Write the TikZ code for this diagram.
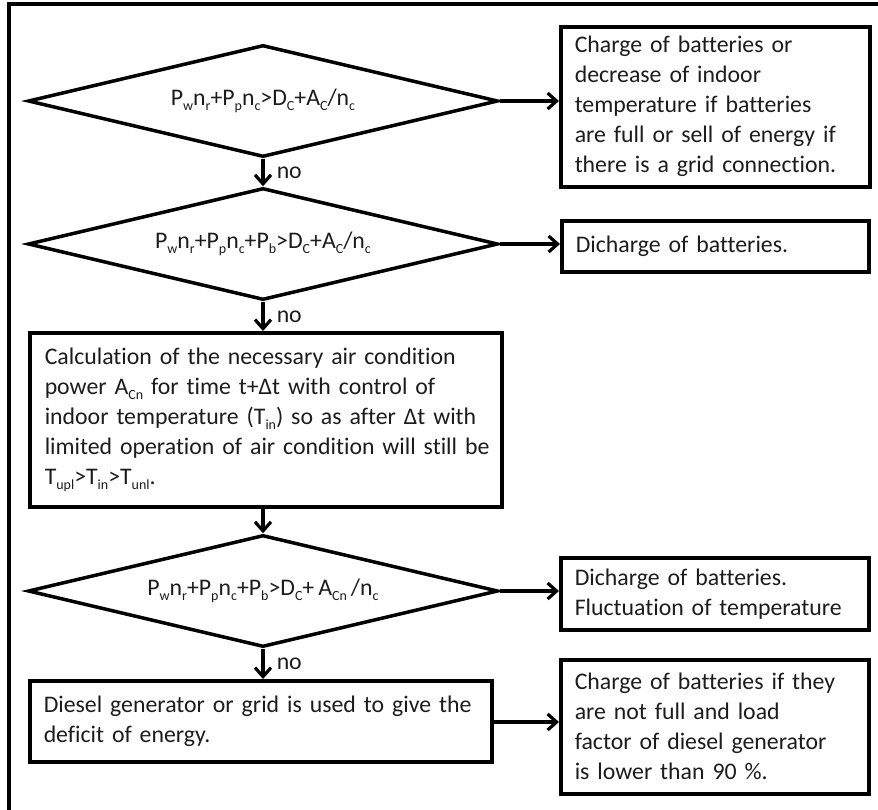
\documentclass[tikz,border=0pt]{standalone}
\usepackage{fontspec}
\setmainfont{Carlito}[Ligatures=NoCommon, WordSpace=0.75]
\usetikzlibrary{shapes.geometric,arrows.meta}
\definecolor{T}{RGB}{28,28,28}
% small lowered index, one unbroken line
\newcommand{\lo}[1]{\raisebox{-5pt}{\fontsize{14}{14}\selectfont #1}}
\newcommand{\boxline}[1]{\mbox{#1}}

\tikzset{
  every node/.style={font=\fontsize{23.8}{30}\selectfont, text=T},
  dec/.style={diamond, draw, line width=3.5pt, minimum width=470pt, minimum height=112pt, inner sep=0pt, aspect=4.2},
  act/.style={rectangle, draw, line width=3.5pt, align=left, inner xsep=14pt, inner ysep=0pt, anchor=north west},
  flow/.style={line width=3.5pt, -{Straight Barb[length=9pt,width=16pt,line width=3.2pt]}},
}

\begin{document}
\begin{tikzpicture}[x=1pt,y=-1pt]
   \useasboundingbox (0,0) rectangle (878,809);
   % outer frame (cut at right and bottom)
   \draw[line width=4pt] (8.5,830) -- (8.5,4) -- (900,4);

   % decisions
   \node[dec] (d1) at (263,101) {P\lo{w}n\lo{r}+P\lo{p}n\lo{c}>D\lo{C}+A\lo{C}/n\lo{c}};
   \node[dec] (d2) at (263,244) {P\lo{w}n\lo{r}+P\lo{p}n\lo{c}+P\lo{b}>D\lo{C}+A\lo{C}/n\lo{c}};
   \node[dec] (d3) at (263,591) {P\lo{w}n\lo{r}+P\lo{p}n\lo{c}+P\lo{b}>D\lo{C}+ A\lo{Cn} /n\lo{c}};

   % actions
   \node[act, text width=281pt, minimum height=160pt] (b1) at (559,25) {\boxline{Charge of batteries or}\\ \boxline{decrease of indoor}\\ \boxline{temperature if batteries}\\ \boxline{are full or sell of energy if}\\ \boxline{there is a grid connection.}};
   \node[act, text width=279pt, minimum height=51pt] (b2) at (560,219) {\boxline{Dicharge of batteries.}};
   \node[act, inner xsep=15pt, text width=442pt, minimum height=174pt] (b3) at (28,331) {\boxline{Calculation of the necessary air condition}\\ \boxline{power A\lo{Cn} for time t+Δt with control of}\\ \boxline{indoor temperature (T\lo{in}) so as after Δt with}\\ \boxline{limited operation of air condition will still be}\\ \boxline{T\lo{upl}>T\lo{in}>T\lo{unl}.}};
   \node[act, text width=280pt, minimum height=72pt] (b4) at (559,556) {\boxline{Dicharge of batteries.}\\ \boxline{Fluctuation of temperature}};
   \node[act, text width=434pt, minimum height=81pt] (b5) at (28,679) {\boxline{Diesel generator or grid is used to give the}\\ \boxline{deficit of energy.}};
   \node[act, text width=280pt, minimum height=134pt] (b6) at (559,658) {\boxline{Charge of batteries if they}\\ \boxline{are not full and load}\\ \boxline{factor of diesel generator}\\ \boxline{is lower than 90 \%.}};

   % connectors
   \draw[flow] (d1.east) -- (d1.east -| b1.west);
   \draw[flow] (d2.east) -- (d2.east -| b2.west);
   \draw[flow] (d3.east) -- (d3.east -| b4.west);
   \draw[flow] (b5.east |- 0,722) -- (b6.west |- 0,722);
   \draw[flow] (d1.south) -- node[right, inner xsep=12pt] (n1) {no} (d2.north);
   \draw[flow] (d2.south) -- node[right, inner xsep=12pt] (n2) {no} (d2.south |- b3.north);
   \draw[flow] (d2.south |- b3.south) -- (d3.north);
   \draw[flow] (d3.south) -- node[right, inner xsep=12pt] (n3) {no} (d3.south |- b5.north);
\end{tikzpicture}
\end{document}
